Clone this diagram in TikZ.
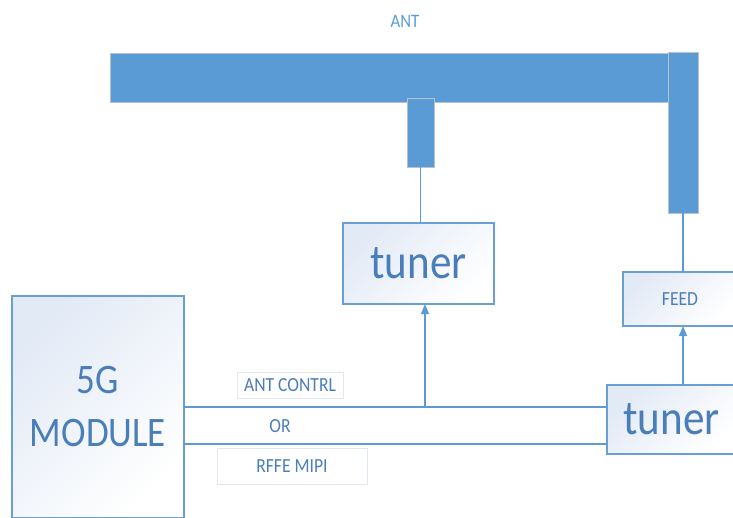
\documentclass[tikz,border=0pt]{standalone}
\usepackage{fontspec}
\setmainfont{Carlito}
\usetikzlibrary{arrows.meta}
\definecolor{barblue}{HTML}{5B9BD5}
\definecolor{edgeblue}{HTML}{6A9FD4}
\definecolor{txtblue}{HTML}{4A7EBB}
\definecolor{fillblue}{HTML}{E2EAF6}
\definecolor{lblgray}{HTML}{E2E8F0}
\definecolor{bargray}{HTML}{B8C2CC}
\tikzset{
  bar/.style={fill=barblue, draw=bargray, line width=0.6pt, inner sep=0pt, outer sep=0pt, anchor=north west},
  blk/.style={draw=edgeblue, line width=1.1pt, top color=fillblue, bottom color=white, shading angle=45, inner sep=0pt, outer sep=0pt, anchor=north west, text=txtblue, align=center},
  lbl/.style={draw=lblgray, line width=0.8pt, fill=white, inner sep=0pt, outer sep=0pt, anchor=north west, text=txtblue, font=\fontsize{20}{22}\selectfont},
  wire/.style={draw=barblue, line width=1.3pt},
  arr/.style={wire, -{Triangle[length=10pt,width=8pt]}},
}
\newcommand{\sq}[1]{\scalebox{0.88}[1]{#1}}
\begin{document}
\begin{tikzpicture}[x=1pt,y=-1pt]
\useasboundingbox (0,0) rectangle (733,517);
% antenna label
\node[text=barblue, font=\fontsize{19}{20}\selectfont, inner sep=0pt] (antlbl) at (405,21) {\sq{ANT}};
% antenna bars
\node[bar, minimum width=560pt, minimum height=49pt] (hbar) at (110,53) {};
\node[bar, minimum width=30pt, minimum height=161pt] (vbar) at (668,52) {};
\node[bar, minimum width=27pt, minimum height=69pt] (stub) at (407,98) {};
% blocks
\node[blk, minimum width=151pt, minimum height=81pt, font=\fontsize{49}{55}\selectfont] (tuner1) at (343,223) {\sq{tuner}};
\node[blk, minimum width=114pt, minimum height=54pt, font=\fontsize{20}{22}\selectfont] (feed) at (623,272) {\sq{FEED}};
\node[blk, minimum width=130pt, minimum height=69pt, font=\fontsize{49}{55}\selectfont] (tuner2) at (607,385) {\hspace*{-1pt}\sq{tuner}};
\node[blk, minimum width=172pt, minimum height=222pt, font=\fontsize{42}{55}\selectfont] (module) at (12,296) {\sq{5G}\\[-2pt]\sq{MODULE}};
% signal labels
\node[lbl, minimum width=106pt, minimum height=26pt] (ctrl) at (237,372) {\sq{ANT CONTRL}};
\node[text=txtblue, font=\fontsize{20}{22}\selectfont, inner sep=0pt] (orlbl) at (280,426) {\sq{OR}};
\node[lbl, minimum width=150pt, minimum height=36pt] (mipi) at (217,448) {\sq{RFFE MIPI}};
% connectors
\coordinate (l1) at (184,407);
\coordinate (l2) at (184,444);
\coordinate (j) at (425,407);
\draw[wire] (module.east |- l1) -- (tuner2.west |- l1);
\draw[wire] (module.east |- l2) -- (tuner2.west |- l2);
\draw[arr] (j) -- (j |- tuner1.south);
\draw[wire] (stub.south) -- (stub.south |- tuner1.north);
\draw[wire] (vbar.south) -- (vbar.south |- feed.north);
\draw[arr] (vbar.south |- tuner2.north) -- (vbar.south |- feed.south);
\end{tikzpicture}
\end{document}
